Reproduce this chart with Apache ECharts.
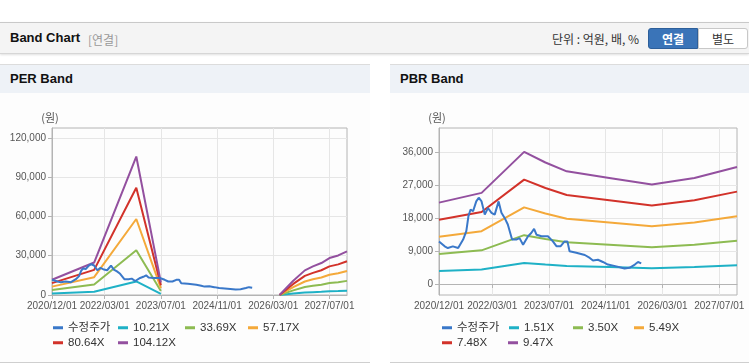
<!DOCTYPE html>
<html>
<head>
<meta charset="utf-8">
<script src="https://cdn.jsdelivr.net/npm/echarts@6/dist/echarts.min.js"></script>
<style>
body{margin:0;width:749px;height:364px;overflow:hidden;position:relative;background:#fff;font-family:"Liberation Sans","Noto Sans CJK KR",sans-serif;}
#head{position:absolute;left:0;top:22px;width:749px;height:30px;background:#f4f4f4;border-top:1px solid #c9c9c9;border-bottom:1px solid #d6d6d6;box-shadow:0 1px 2px rgba(0,0,0,.12);}
#head .title{position:absolute;left:10px;top:7px;font-size:13px;font-weight:bold;color:#111;}
#head .sub{position:absolute;left:88px;top:8px;font-size:12px;color:#999;font-family:"Noto Sans CJK KR",sans-serif;}
#head .unit{position:absolute;left:552px;top:7px;font-size:12px;color:#333;font-family:"Noto Sans CJK KR",sans-serif;}
.btn{position:absolute;top:5px;height:19px;width:48px;text-align:center;line-height:19px;font-size:12px;font-family:"Noto Sans CJK KR",sans-serif;}
#b1{left:648px;background:#3a74b8;color:#fff;font-weight:bold;border:1px solid #2d5f9a;border-radius:3px 0 0 3px;}
#b2{left:698px;background:#fff;color:#333;border:1px solid #c8c8c8;border-radius:0 3px 3px 0;}
.panel{position:absolute;top:64px;height:297px;border-top:1px solid #dcdcdc;border-bottom:1px solid #cfcfcf;background:#fdfdfd;}
.panel .ph{height:28px;background:#eef2f7;font-size:13px;font-weight:bold;color:#111;line-height:28px;padding-left:10px;}
.chart{position:absolute;left:0;top:28px;height:268px;}
</style>
</head>
<body>
<div id="head">
  <span class="title">Band Chart</span>
  <span class="sub">[연결]</span>
  <span class="unit">단위 : 억원, 배, %</span>
  <div class="btn" id="b1">연결</div>
  <div class="btn" id="b2">별도</div>
</div>
<div class="panel" style="left:0;width:370px;">
  <div class="ph">PER Band</div>
  <div class="chart" id="per" style="width:370px;"></div>
</div>
<div class="panel" style="left:390px;width:359px;">
  <div class="ph">PBR Band</div>
  <div class="chart" id="pbr" style="width:359px;"></div>
</div>
<script>
// x positions are months since 2020/12/01
var xTickMonths = [0, 15, 31, 47, 63, 79];
var xTickLabels = ['2020/12/01', '2022/03/01', '2023/07/01', '2024/11/01', '2026/03/01', '2027/07/01'];
var perTicks = [0, 30000, 60000, 90000, 120000];
var pbrTicks = [0, 9000, 18000, 27000, 36000];

// 수정주가 [month, 원]
var price = [
  [0, 11600], [1.6, 10250], [2.5, 9800], [3.9, 10250], [5.4, 9800], [6.8, 12100],
  [7.7, 14400], [8.3, 18500], [8.9, 20300], [9.6, 19800], [10.5, 22500], [11.2, 23500],
  [12, 22500], [12.9, 18900], [13.8, 20700], [14.8, 19400], [15.7, 18900], [16.8, 22500],
  [17.6, 19400], [18.5, 18000], [19.4, 16200], [20.6, 12100], [21.8, 12100], [22.7, 12500],
  [23.7, 10700], [25.1, 13000], [26, 13900], [26.8, 15000], [27.5, 13400], [28.9, 13000],
  [30.7, 13000], [32.1, 11600], [33.1, 10300], [34.3, 10300], [35.4, 11600], [36.2, 11600],
  [36.8, 8900], [38.7, 8500], [41.1, 7900], [42.5, 7100], [43.4, 6400], [44.8, 6600],
  [46.2, 6000], [47.6, 5300], [50, 4800], [52.3, 4200], [53.7, 4400], [55.2, 5300],
  [56.1, 6000], [57, 5600]
];

// PER band (null = no band)
var perNames = ['10.21X', '33.69X', '57.17X', '80.64X', '104.12X'];
var perMonths = [0, 12, 24, 31, 45, 64.8, 68.7, 72, 74.3, 76.7, 79, 81.5, 84];
var per1021 = [1150, 2430, 10370, 940, null, 0, 1070, 1840, 2140, 2390, 2770, 2960, 3270];
var per3369 = [3780, 8020, 34200, 3100, null, 0, 3530, 6080, 7050, 7900, 9130, 9770, 10780];
var per5717 = [6410, 13600, 58000, 5260, null, 0, 5990, 10320, 11970, 13400, 15480, 16580, 18290];
var per8064 = [9040, 19200, 81900, 7400, null, 0, 8440, 14560, 16880, 18900, 21840, 23390, 25790];
var per10412 = [11670, 24800, 105700, 9600, null, 0, 10900, 18800, 21800, 24400, 28200, 30200, 33300];

// PBR band
var pbrNames = ['1.51X', '3.50X', '5.49X', '7.48X', '9.47X'];
var pbrMonths = [0, 12, 24, 30, 36, 48, 60, 72, 84];
var pbr151 = [3540, 3960, 5740, 5280, 4900, 4610, 4320, 4610, 5080];
var pbr350 = [8190, 9170, 13300, 12230, 11350, 10680, 10020, 10680, 11770];
var pbr549 = [12850, 14390, 20870, 19190, 17800, 16750, 15710, 16750, 18470];
var pbr748 = [17510, 19600, 28440, 26140, 24250, 22830, 21400, 22830, 25160];
var pbr947 = [22170, 24820, 36000, 33100, 30700, 28900, 27100, 28900, 31850];

var colors = ['#3a78c9', '#1fb1c6', '#8dbb52', '#f4a93a', '#d2322a', '#93509f'];
var numFont = '"Liberation Sans", "Noto Sans CJK KR", sans-serif';

function pairs(months, values) {
  return months.map(function (m, i) {
    return [m, values[i] == null ? '-' : values[i]];
  });
}

function buildOption(cfg) {
  var names = ['수정주가'].concat(cfg.names);
  var series = [];
  cfg.bands.forEach(function (vals, i) {
    series.push({
      name: cfg.names[i], type: 'line', data: pairs(cfg.months, vals),
      symbol: 'none', lineStyle: {width: 2, color: colors[i + 1]},
      itemStyle: {color: colors[i + 1]}, z: 2
    });
  });
  series.push({
    name: '수정주가', type: 'line', data: price,
    symbol: 'none', lineStyle: {width: 2, color: colors[0]},
    itemStyle: {color: colors[0]}, z: 3
  });
  var legendPos = cfg.legendPos;
  var legends = names.map(function (n, i) {
    return {
      data: [n], left: legendPos[i][0], top: legendPos[i][1],
      icon: 'rect', itemWidth: 10, itemHeight: 3, padding: 0,
      textStyle: {fontFamily: numFont, fontSize: 11.5, color: '#333'}
    };
  });
  return {
    animation: false,
    grid: {left: cfg.left, top: 35, width: cfg.width, height: 167, show: true, borderColor: '#b4b4b4', borderWidth: 1},
    legend: legends,
    xAxis: {
      type: 'value', min: 0, max: 84,
      axisLine: {show: true, lineStyle: {color: '#b4b4b4'}},
      axisTick: {show: true, length: 4, customValues: xTickMonths, lineStyle: {color: '#b4b4b4'}},
      splitLine: {show: true, lineStyle: {color: '#e6e6e6'}},
      axisLabel: {
        customValues: xTickMonths, margin: 6, fontSize: 10, color: '#555', fontFamily: numFont,
        showMinLabel: true, showMaxLabel: true, hideOverlap: false,
        formatter: function (v) { return xTickLabels[xTickMonths.indexOf(v)]; }
      }
    },
    yAxis: {
      type: 'value', min: cfg.ymin, max: cfg.ymax,
      name: '(원)', nameLocation: 'end', nameGap: 5,
      nameTextStyle: {fontSize: 11, color: '#555', fontFamily: '"Noto Sans CJK KR", sans-serif', padding: [0, 4, 0, 0]},
      axisLine: {show: true, lineStyle: {color: '#b4b4b4'}},
      axisTick: {show: true, length: 4, customValues: cfg.ticks, lineStyle: {color: '#b4b4b4'}},
      splitLine: {show: true, lineStyle: {color: '#e6e6e6'}},
      axisLabel: {customValues: cfg.ticks, margin: 6, fontSize: 10, color: '#555', fontFamily: numFont,
        showMinLabel: true, showMaxLabel: true}
    },
    series: series
  };
}

var perChart = echarts.init(document.getElementById('per'));
perChart.setOption(buildOption({
  names: perNames, months: perMonths,
  bands: [per1021, per3369, per5717, per8064, per10412],
  left: 52, width: 295, ymin: 0, ymax: 127500, ticks: perTicks,
  legendPos: [[53, 229], [118, 229], [185, 229], [248, 229], [53, 244], [118, 244]]
}));

var pbrChart = echarts.init(document.getElementById('pbr'));
pbrChart.setOption(buildOption({
  names: pbrNames, months: pbrMonths,
  bands: [pbr151, pbr350, pbr549, pbr748, pbr947],
  left: 49, width: 298, ymin: -3000, ymax: 42500, ticks: pbrTicks,
  legendPos: [[52, 229], [119, 229], [183, 229], [244, 229], [52, 244], [118, 244]]
}));
</script>
</body>
</html>
